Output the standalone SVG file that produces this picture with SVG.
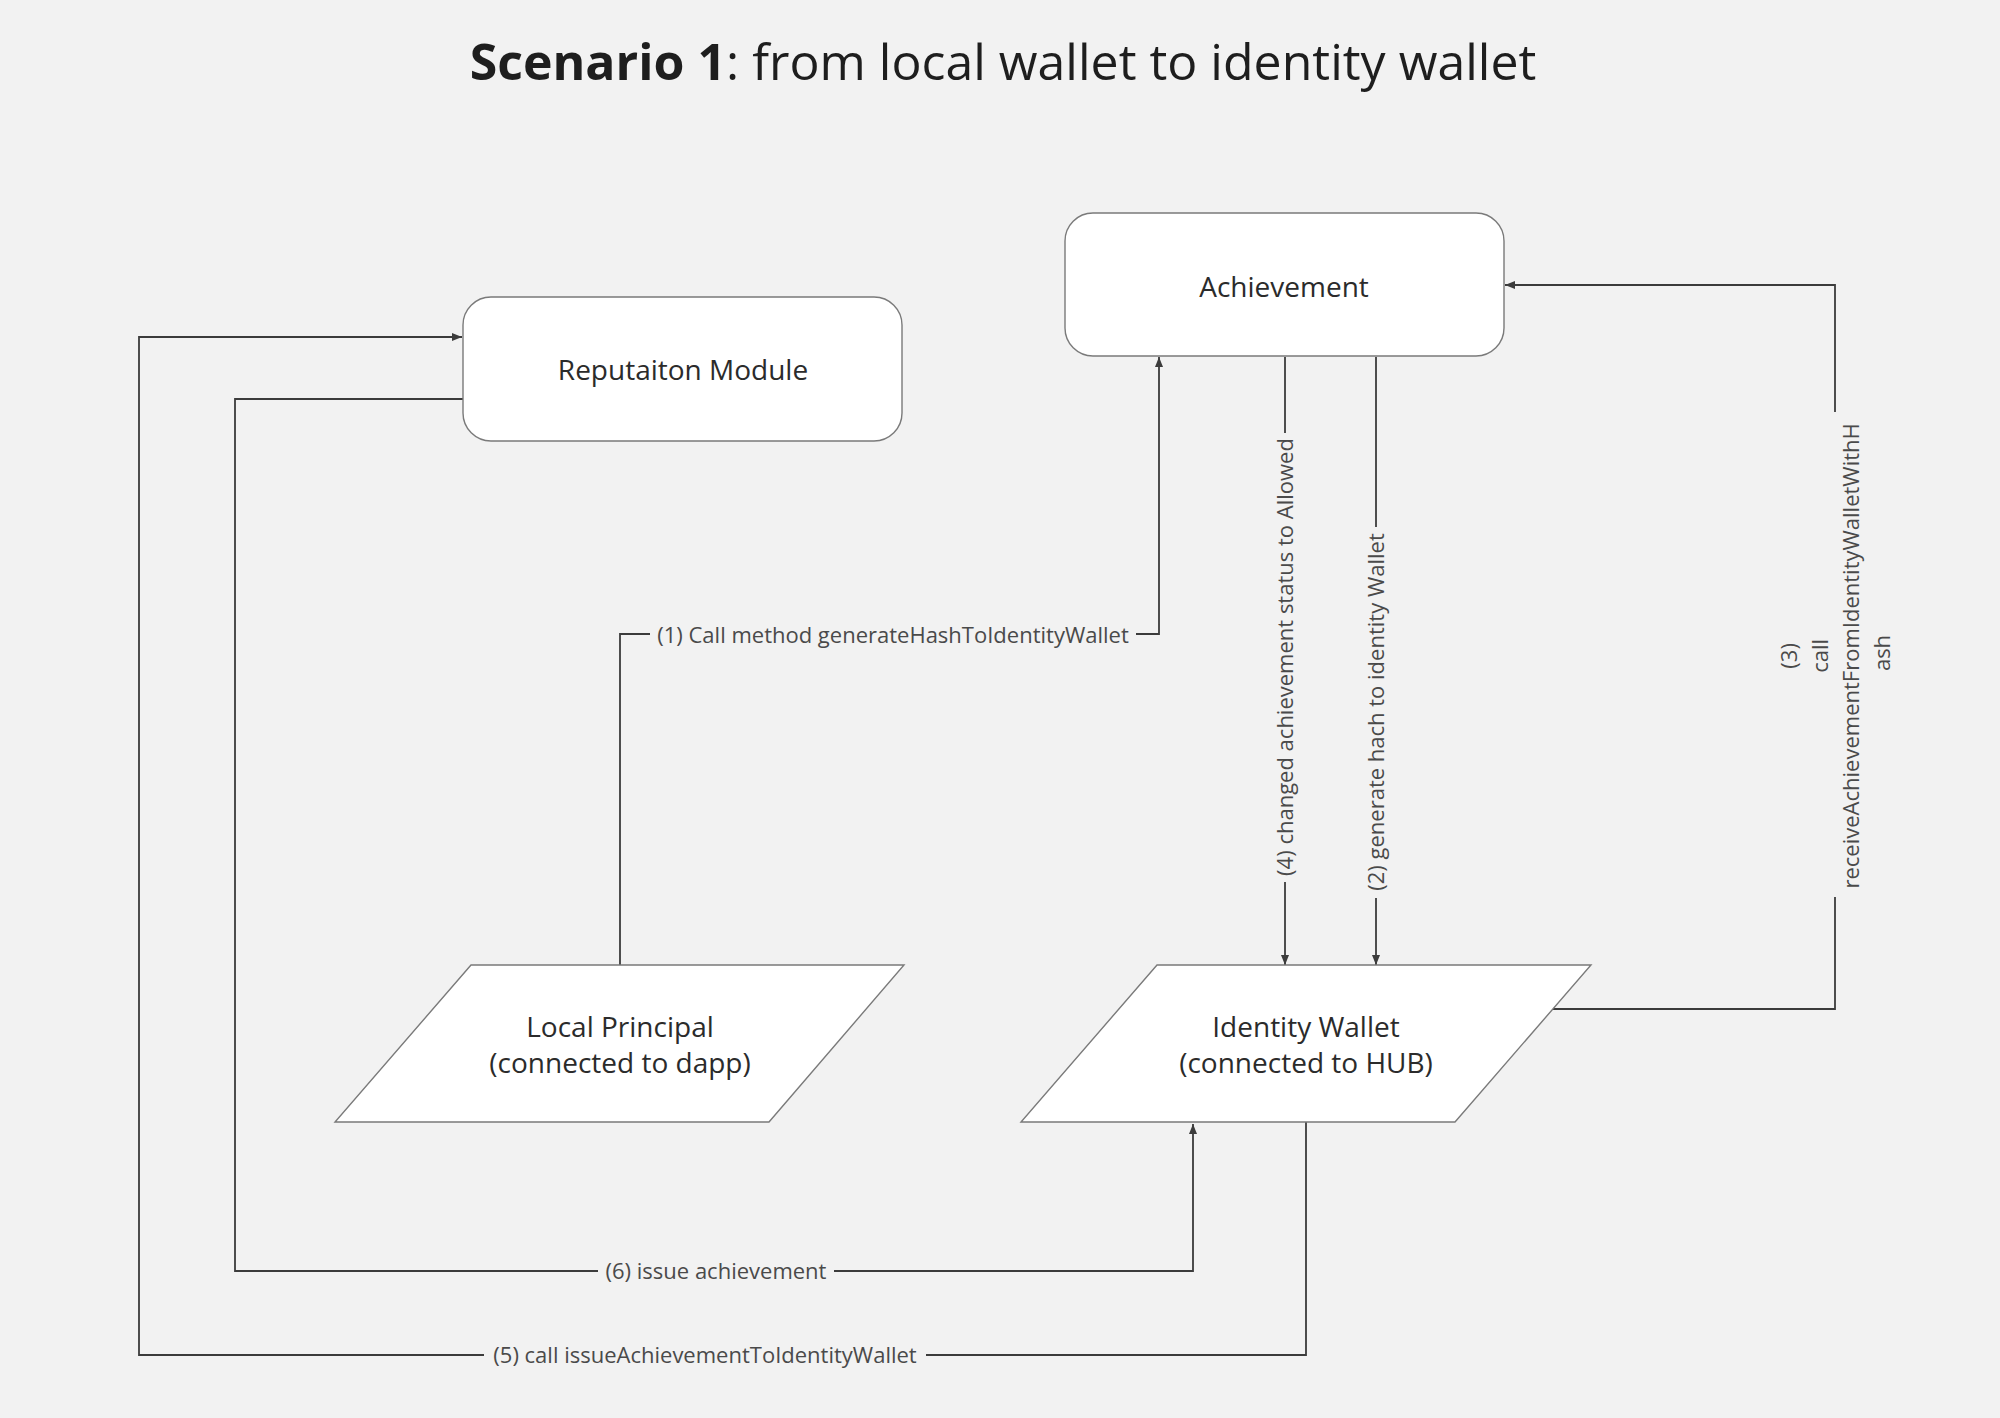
<svg xmlns="http://www.w3.org/2000/svg" width="2000" height="1418" viewBox="0 0 2000 1418">
  <style>
    .node { fill: #ffffff; stroke: #7a7a7a; stroke-width: 1.4; }
    .ntext { font-family: "Open Sans", "Liberation Sans", sans-serif; font-size: 28px; fill: #2b2b2b; text-anchor: middle; }
    .conn { fill: none; stroke: #3c3c3c; stroke-width: 1.8; }
    .ltext { font-family: "Open Sans", "Liberation Sans", sans-serif; font-size: 22px; fill: #4a4a4a; text-anchor: middle; }
    .title { font-family: "Open Sans", "Liberation Sans", sans-serif; font-size: 50px; fill: #1e1e1e; text-anchor: middle; }
  </style>
  <defs>
    <marker id="arrow" markerUnits="userSpaceOnUse" markerWidth="12" markerHeight="10" refX="10" refY="5" orient="auto">
      <path d="M0,1 L10,5 L0,9 Z" fill="#3c3c3c"/>
    </marker>
  </defs>
  <rect x="0" y="0" width="2000" height="1418" fill="#f2f2f2"/>

  <text class="title" x="1003" y="80"><tspan font-weight="bold">Scenario 1</tspan>: from local wallet to identity wallet</text>

  <g id="connectors">
    <!-- (1) -->
    <path class="conn" d="M620,965 V634 H650"/>
    <path class="conn" d="M1136,634 H1159 V357" marker-end="url(#arrow)"/>
    <text class="ltext" x="893" y="643">(1) Call method generateHashToIdentityWallet</text>
    <!-- (2) -->
    <path class="conn" d="M1376,357 V527"/>
    <path class="conn" d="M1376,898 V965" marker-end="url(#arrow)"/>
    <text class="ltext" transform="translate(1384,712) rotate(-90)">(2) generate hach to identity Wallet</text>
    <!-- (4) -->
    <path class="conn" d="M1285,357 V433"/>
    <path class="conn" d="M1285,882 V965" marker-end="url(#arrow)"/>
    <text class="ltext" transform="translate(1293,657) rotate(-90)">(4) changed achievement status to Allowed</text>
    <!-- (3) -->
    <path class="conn" d="M1553,1009 H1835 V897"/>
    <path class="conn" d="M1835,412 V285 H1505" marker-end="url(#arrow)"/>
    <text class="ltext" transform="translate(1835,653) rotate(-90)">
      <tspan x="0" y="-38">(3)</tspan>
      <tspan x="0" y="-7">call</tspan>
      <tspan x="0" y="24">receiveAchievementFromIdentityWalletWithH</tspan>
      <tspan x="0" y="55">ash</tspan>
    </text>
    <!-- (5) -->
    <path class="conn" d="M1306,1122 V1355 H926"/>
    <path class="conn" d="M484,1355 H139 V337 H462" marker-end="url(#arrow)"/>
    <text class="ltext" x="705" y="1363">(5) call issueAchievementToIdentityWallet</text>
    <!-- (6) -->
    <path class="conn" d="M463,399 H235 V1271 H598"/>
    <path class="conn" d="M834,1271 H1193 V1124" marker-end="url(#arrow)"/>
    <text class="ltext" x="716" y="1279">(6) issue achievement</text>
  </g>

  <g id="achievement">
    <rect class="node" x="1065" y="213" width="439" height="143" rx="28" ry="28"/>
    <text class="ntext" x="1284" y="297">Achievement</text>
  </g>

  <g id="reputation-module">
    <rect class="node" x="463" y="297" width="439" height="144" rx="28" ry="28"/>
    <text class="ntext" x="683" y="380">Reputaiton Module</text>
  </g>

  <g id="local-principal">
    <polygon class="node" points="471,965 904,965 769,1122 335,1122"/>
    <text class="ntext" x="620" y="1037">Local Principal</text>
    <text class="ntext" x="620" y="1073">(connected to dapp)</text>
  </g>

  <g id="identity-wallet">
    <polygon class="node" points="1157,965 1591,965 1455,1122 1021,1122"/>
    <text class="ntext" x="1306" y="1037">Identity Wallet</text>
    <text class="ntext" x="1306" y="1073">(connected to HUB)</text>
  </g>
</svg>
